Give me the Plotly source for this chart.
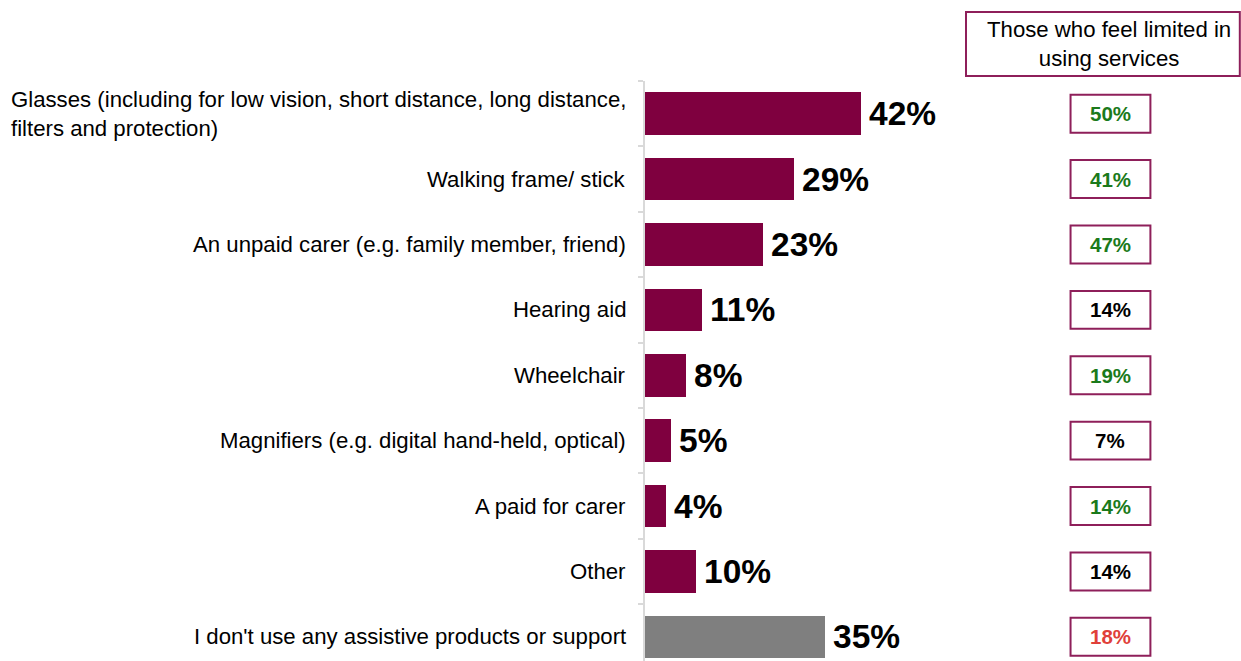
import plotly.graph_objects as go

# Assistive products / support used, share of all respondents (%)
categories = [
    "Glasses (including for low vision, short distance, long distance,<br>filters and protection)",
    "Walking frame/ stick",
    "An unpaid carer (e.g. family member, friend)",
    "Hearing aid",
    "Wheelchair",
    "Magnifiers (e.g. digital hand-held, optical)",
    "A paid for carer",
    "Other",
    "I don't use any assistive products or support",
]
all_pct = [42, 29, 23, 11, 8, 5, 4, 10, 35]

# Same measure among those who feel limited in using services (%)
limited_pct = [50, 41, 47, 14, 19, 7, 14, 14, 18]
# Difference vs all respondents: "higher", "lower" or "same"
limited_sig = ["higher", "higher", "higher", "same", "higher", "same", "higher", "same", "lower"]

limited_header = "Those who feel limited in<br>using services"

MAROON = "#7F003F"
GREY = "#7F7F7F"
BOX = "#8E1F5A"
SIG_COLOURS = {"higher": "#1B7A1B", "lower": "#E0403A", "same": "#000000"}
FONT = "Liberation Sans, Arial, sans-serif"

n = len(categories)
ypos = list(range(n))
bar_colours = [MAROON] * (n - 1) + [GREY]

fig = go.Figure(
    go.Bar(
        x=all_pct,
        y=ypos,
        orientation="h",
        width=0.65,
        marker=dict(color=bar_colours, line=dict(width=0)),
        hoverinfo="skip",
    )
)

annotations = []
shapes = []

for i, (cat, v) in enumerate(zip(categories, all_pct)):
    # category label, left-aligned block ending just left of the axis
    annotations.append(dict(
        x=0, xref="paper", y=i, yref="y", text=cat, showarrow=False,
        xanchor="right", yanchor="middle", align="left", xshift=-17,
        font=dict(family=FONT, size=22.2, color="#000000"),
    ))
    # value label at the end of the bar
    annotations.append(dict(
        x=v, xref="x", y=i, yref="y", text=f"<b>{v}%</b>", showarrow=False,
        xanchor="left", yanchor="middle", xshift=6,
        font=dict(family=FONT, size=33.5, color="#000000"),
    ))

# Right-hand column: boxed values for those limited in using services
bx0, bx1 = 0.714, 0.848
for i, (v, s) in enumerate(zip(limited_pct, limited_sig)):
    shapes.append(dict(
        type="rect", xref="paper", yref="y", x0=bx0, x1=bx1, y0=i - 0.29, y1=i + 0.29,
        line=dict(color=BOX, width=2), fillcolor="white", layer="above",
    ))
    annotations.append(dict(
        x=(bx0 + bx1) / 2, xref="paper", y=i, yref="y", text=f"<b>{v}%</b>",
        showarrow=False, xanchor="center", yanchor="middle",
        font=dict(family=FONT, size=20.5, color=SIG_COLOURS[s]),
    ))

# Column header box
shapes.append(dict(
    type="rect", xref="paper", yref="paper", x0=0.5386, x1=0.998, y0=1.0086, y1=1.119,
    line=dict(color=BOX, width=2), fillcolor="white",
))
annotations.append(dict(
    x=(0.5386 + 0.998) / 2, xref="paper", y=1.0638, yref="paper", text=limited_header,
    showarrow=False, xanchor="center", yanchor="middle", align="center", xshift=6,
    font=dict(family=FONT, size=22.2, color="#000000"),
))

fig.update_layout(
    width=1241, height=661,
    margin=dict(l=645, r=0, t=81, b=0, pad=0),
    paper_bgcolor="white", plot_bgcolor="white",
    showlegend=False,
    bargap=0,
    xaxis=dict(range=[0, 596 / 5.14], visible=False, fixedrange=True),
    yaxis=dict(
        range=[8.37, -0.5], tickvals=ypos, showticklabels=False, ticks="",
        showgrid=False, zeroline=False,
        showline=True, linecolor="#D9D9D9", linewidth=1.5,
        minor=dict(tickvals=[k - 0.5 for k in range(n + 1)], ticks="outside",
                   ticklen=5, tickcolor="#D9D9D9", tickwidth=1.5, showgrid=False),
        fixedrange=True,
    ),
    annotations=annotations,
    shapes=shapes,
)

fig.write_html("out.html")
